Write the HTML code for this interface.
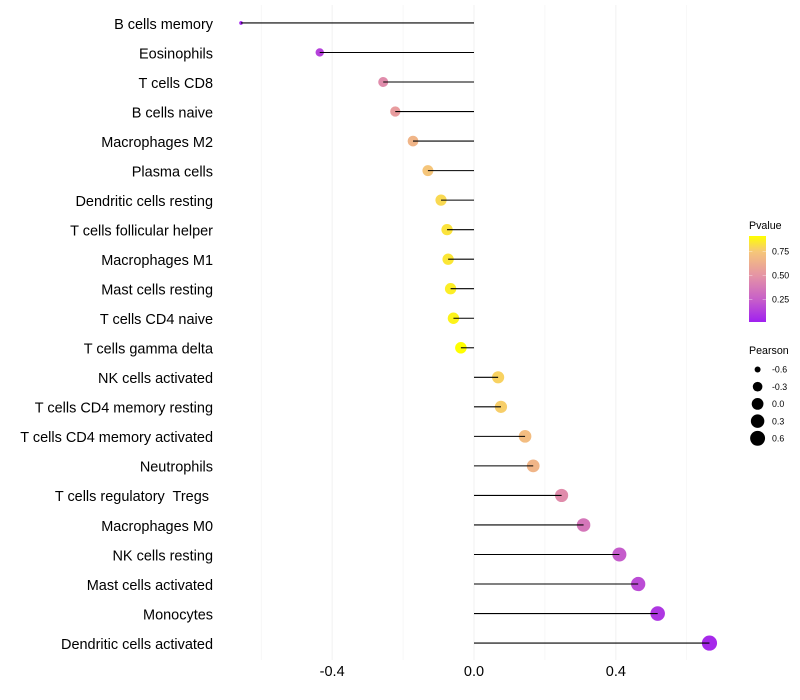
<!DOCTYPE html>
<html lang="en">
<head>
<meta charset="utf-8">
<title>Pearson lollipop chart</title>
<style>
html,body{margin:0;padding:0;background:#fff;}
svg{display:block;font-family:"Liberation Sans",sans-serif;}
text{white-space:pre;}
</style>
</head>
<body>
<svg id="chart" width="800" height="700" viewBox="0 0 800 700" xmlns="http://www.w3.org/2000/svg">
<defs><linearGradient id="pvalue-gradient" x1="0" y1="1" x2="0" y2="0"></linearGradient></defs>
</svg>
<script>
const categories = ["B cells memory","Eosinophils","T cells CD8","B cells naive","Macrophages M2","Plasma cells","Dendritic cells resting","T cells follicular helper","Macrophages M1","Mast cells resting","T cells CD4 naive","T cells gamma delta","NK cells activated","T cells CD4 memory resting","T cells CD4 memory activated","Neutrophils","T cells regulatory  Tregs ","Macrophages M0","NK cells resting","Mast cells activated","Monocytes","Dendritic cells activated"];
const pearson = [-0.657,-0.435,-0.256,-0.222,-0.172,-0.13,-0.093,-0.076,-0.073,-0.066,-0.058,-0.037,0.068,0.076,0.144,0.167,0.247,0.309,0.41,0.463,0.518,0.664];
const pvalue = [0.02,0.14,0.46,0.54,0.66,0.74,0.8,0.83,0.84,0.86,0.875,0.91,0.78,0.77,0.7,0.66,0.46,0.36,0.24,0.18,0.1,0.05];
const majorTicks = [-0.4,0,0.4];
const minorTicks = [-0.6,-0.2,0.2,0.6];
const pvalueTicks = [0.25,0.5,0.75];
const pearsonLegend = [-0.6,-0.3,0,0.3,0.6];
const colorStopP = [0.016,0.25,0.5,0.75,0.91];
const colorStopHex = ["#a020f0","#c75fc9","#e594a5","#f6c778","#ffff00"];

const svg = document.getElementById('chart');
const NS = 'http://www.w3.org/2000/svg';
function make(tag, attrs, parent){
  const el = document.createElementNS(NS, tag);
  for (const k in attrs) el.setAttribute(k, attrs[k]);
  (parent || svg).appendChild(el);
  return el;
}
function xScale(v){ return 474 + v * 354.6; }
function yScale(i){ return 22.95 + i * 29.53; }
function pScale(p){ return 322 - (p - 0.016) * 96; }
function sizeScale(v){
  const lo = Math.min(...pearson), hi = Math.max(...pearson);
  const t = Math.max(0, Math.min(1, (v - lo) / (hi - lo)));
  return (3.6 + Math.sqrt(t) * 11.6) / 2;
}
function hexToRgb(h){ return [1,3,5].map(i => parseInt(h.substr(i,2),16)); }
function colorScale(p){
  const n = colorStopP.length;
  if (p <= colorStopP[0]) return colorStopHex[0];
  if (p >= colorStopP[n-1]) return colorStopHex[n-1];
  for (let i = 1; i < n; i++){
    if (p <= colorStopP[i]){
      const t = (p - colorStopP[i-1]) / (colorStopP[i] - colorStopP[i-1]);
      const a = hexToRgb(colorStopHex[i-1]), b = hexToRgb(colorStopHex[i]);
      return 'rgb(' + a.map((c,j) => Math.round(c + (b[j]-c)*t)).join(',') + ')';
    }
  }
}

// grid
minorTicks.forEach(t => {
  const el = make('line', {x1:xScale(t), x2:xScale(t), y1:5, y2:660, stroke:'#f2f2f2', 'stroke-width':0.55});
  
  
});
majorTicks.forEach(t => {
  const el = make('line', {x1:xScale(t), x2:xScale(t), y1:5, y2:660, stroke:'#f2f2f2', 'stroke-width':1.07});
  
  
});

// x tick labels
majorTicks.forEach(t => {
  const el = make('text', {x:xScale(t), y:676, 'text-anchor':'middle', 'font-size':14.5, fill:'#000'});
  el.textContent = t.toFixed(1);
  
  
});

// rows
categories.forEach((c, i) => {
  const label = make('text', {x:213, y:yScale(i)+5.8, 'text-anchor':'end', 'font-size':14.48, fill:'#000'});
  label.textContent = c;
  
  

  const dot = make('circle', {cx:xScale(pearson[i]), cy:yScale(i), r:sizeScale(pearson[i]), fill:colorScale(pvalue[i])});
  
  

  const stem = make('line', {x1:xScale(0), x2:xScale(pearson[i]), y1:yScale(i), y2:yScale(i), stroke:'#000', 'stroke-width':1.07});
  
  
});

// p-value legend
const pTitle = make('text', {x:749, y:229, 'font-size':10.67, fill:'#000'});
pTitle.textContent = 'Pvalue';



const grad = document.getElementById('pvalue-gradient');
colorStopP.forEach((p, i) => {
  make('stop', {offset:(p - colorStopP[0]) / (colorStopP[colorStopP.length-1] - colorStopP[0]), 'stop-color':colorStopHex[i]}, grad);
});
const bar = make('rect', {x:749, y:236, width:17, height:86, fill:'url(#pvalue-gradient)'});



pvalueTicks.forEach(p => {
  const y = pScale(p);
  const left = make('line', {x1:749, x2:752.4, y1:y, y2:y, stroke:'#fff', 'stroke-opacity':0.6, 'stroke-width':0.6});
  
  
  const right = make('line', {x1:762.6, x2:766, y1:y, y2:y, stroke:'#fff', 'stroke-opacity':0.6, 'stroke-width':0.6});
  
  
  const lab = make('text', {x:772, y:y+3.2, 'font-size':8.8, fill:'#000'});
  lab.textContent = p.toFixed(2);
  
  
});

// Pearson legend
const sTitle = make('text', {x:749, y:354, 'font-size':10.67, fill:'#000'});
sTitle.textContent = 'Pearson';



pearsonLegend.forEach((v, i) => {
  const y = 369.5 + i * 17.2;
  const key = make('circle', {cx:757.6, cy:y, r:sizeScale(v), fill:'#000'});
  
  
  const lab = make('text', {x:772, y:y+3.2, 'font-size':8.8, fill:'#000'});
  lab.textContent = v.toFixed(1);
  
  
});
</script>
</body>
</html>
